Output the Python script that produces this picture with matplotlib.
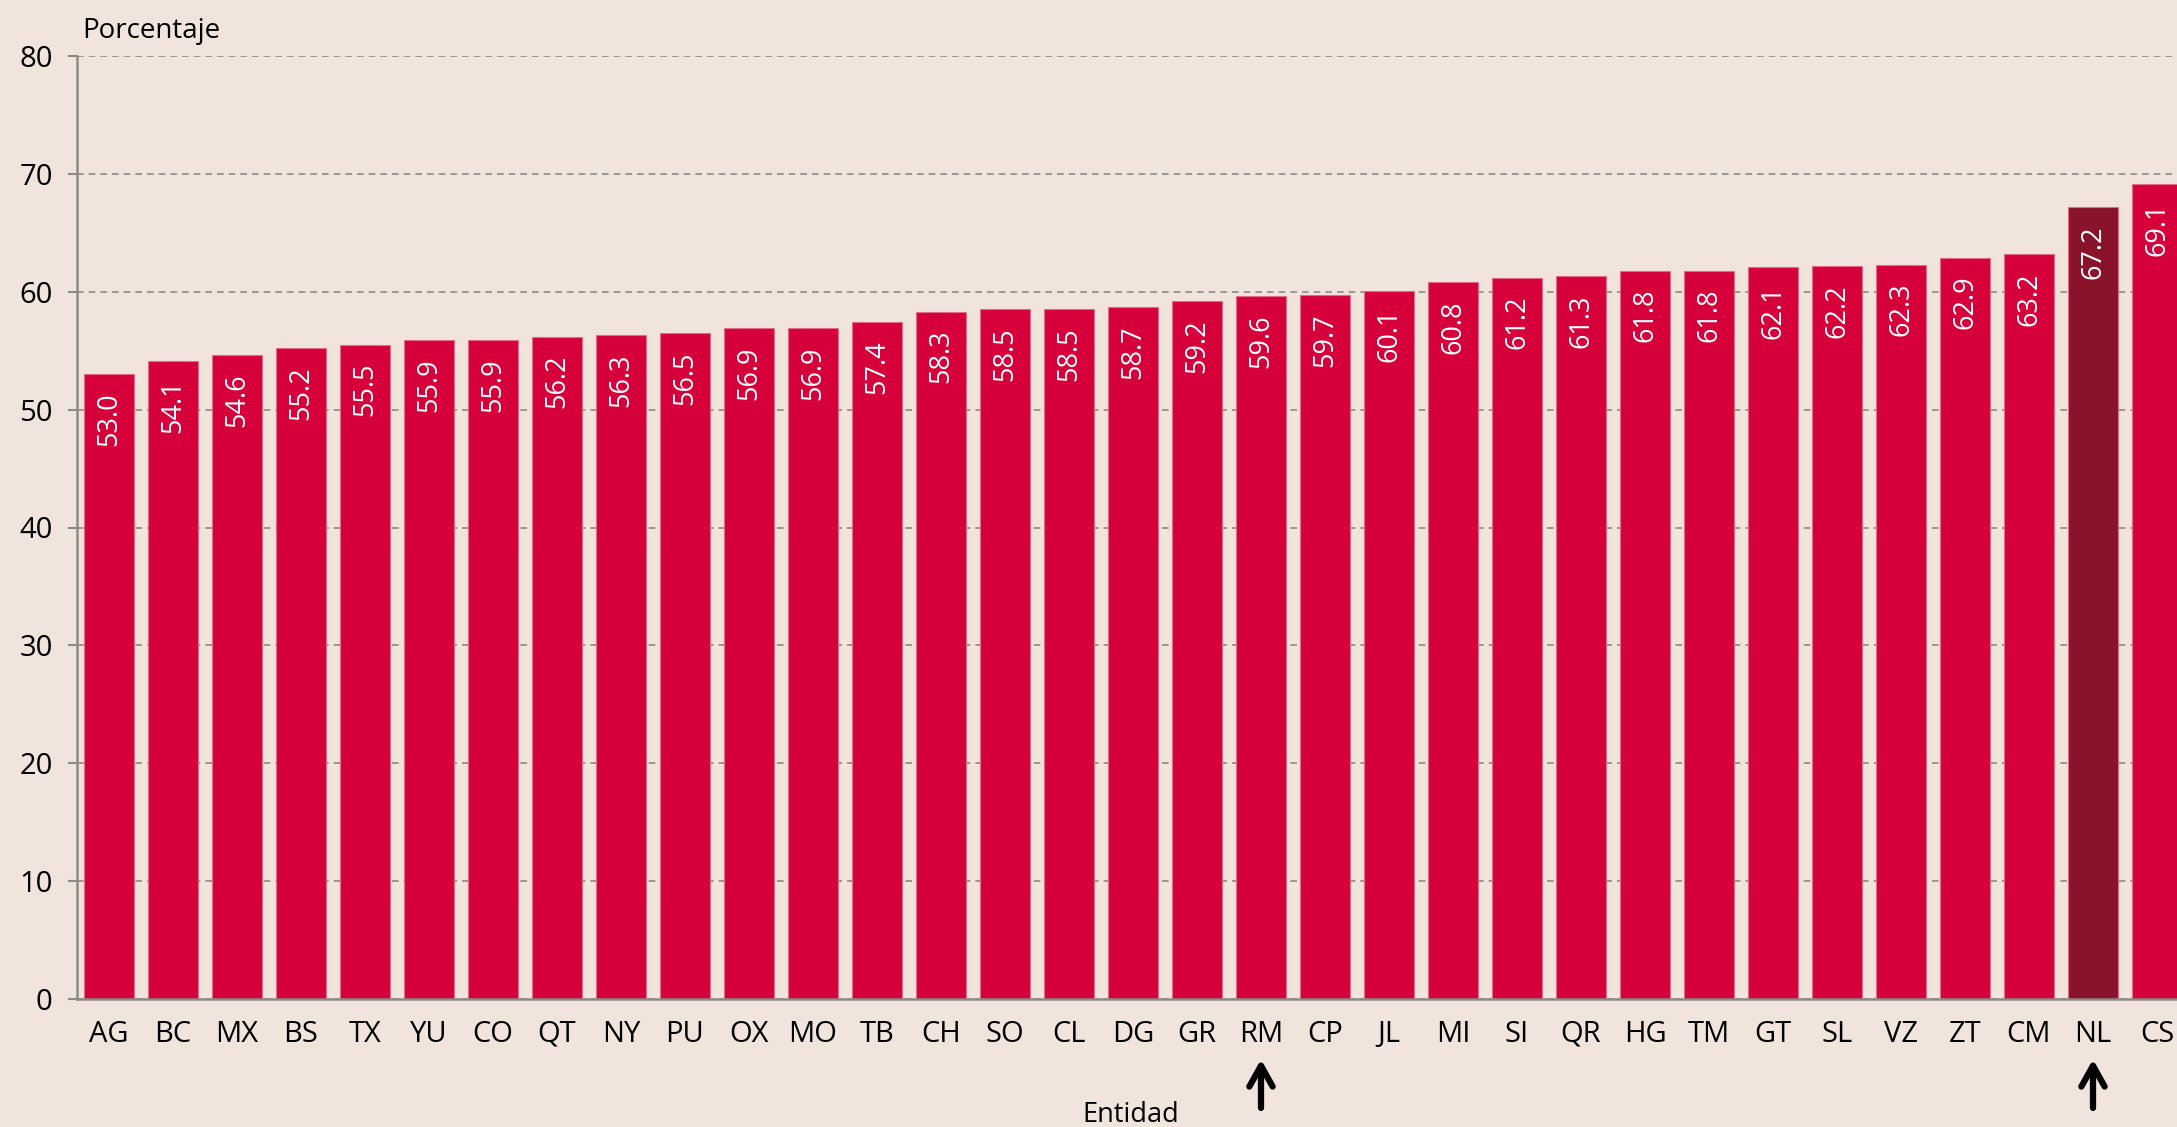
import matplotlib
matplotlib.use("Agg")
import matplotlib.pyplot as plt

# Participation by state (percent)
entidades = ["AG", "BC", "MX", "BS", "TX", "YU", "CO", "QT", "NY", "PU", "OX",
             "MO", "TB", "CH", "SO", "CL", "DG", "GR", "RM", "CP", "JL", "MI",
             "SI", "QR", "HG", "TM", "GT", "SL", "VZ", "ZT", "CM", "NL", "CS"]
porcentaje = [53.0, 54.1, 54.6, 55.2, 55.5, 55.9, 55.9, 56.2, 56.3, 56.5, 56.9,
              56.9, 57.4, 58.3, 58.5, 58.5, 58.7, 59.2, 59.6, 59.7, 60.1, 60.8,
              61.2, 61.3, 61.8, 61.8, 62.1, 62.2, 62.3, 62.9, 63.2, 67.2, 69.1]
destacada = "NL"
flechas = ["RM", "NL"]
yticks = [0, 10, 20, 30, 40, 50, 60, 70, 80]

BG = "#f0e4dc"
RED = "#d6003a"
DARK = "#88132b"
GRAY = "#8c8a87"

plt.rcParams["font.family"] = ["Open Sans", "DejaVu Sans"]

fig = plt.figure(figsize=(21.77, 11.27), dpi=100, facecolor=BG)
ax = fig.add_axes([77 / 2177, 1 - 999 / 1127, 1 - 77 / 2177, (999 - 56) / 1127])
ax.set_facecolor(BG)

x = list(range(len(entidades)))
colors = [DARK if e == destacada else RED for e in entidades]
bars = ax.bar(x, porcentaje, width=0.79, color=colors, edgecolor="#e46c86",
              linewidth=0.8, zorder=3)

for xi, v in zip(x, porcentaje):
    ax.annotate(f"{v:.1f}", xy=(xi, v), xytext=(0, -13), textcoords="offset points",
                ha="center", va="top", rotation=90, color="white", fontsize=19.5,
                zorder=4, annotation_clip=False)

ax.set_xlim(-0.5, (2177 - 109) / 64)
ax.set_ylim(0, 80)
ax.set_yticks(yticks)
ax.set_yticklabels([str(t) for t in yticks], fontsize=21)
ax.set_xticks(x)
ax.set_xticklabels(entidades, fontsize=21)
ax.tick_params(axis="x", length=0, pad=15)
ax.tick_params(axis="y", length=6.5, width=1.5, color=GRAY, pad=11)

ax.yaxis.grid(True, linestyle=(0, (4, 3)), color=GRAY, linewidth=1.2, zorder=0)
ax.set_axisbelow(True)

for s in ["top", "right"]:
    ax.spines[s].set_visible(False)
for s in ["left", "bottom"]:
    ax.spines[s].set_color(GRAY)
    ax.spines[s].set_linewidth(1.8)
    ax.spines[s].set_zorder(5)

fig.text(82 / 2177, 1 - 38 / 1127, "Porcentaje", fontsize=20, ha="left", va="baseline")
fig.text(1131 / 2177, 1 - 1122 / 1127, "Entidad", fontsize=19.5, ha="center", va="baseline")

# Arrows under highlighted states
for e in flechas:
    i = entidades.index(e)
    ax.annotate("", xy=(i, -0.064), xycoords=("data", "axes fraction"),
                xytext=(i, -0.1155), textcoords=("data", "axes fraction"),
                arrowprops=dict(arrowstyle="->,head_length=0.75,head_width=0.42",
                                mutation_scale=20, lw=4.5, color="black",
                                shrinkA=0, shrinkB=0, capstyle="round",
                                joinstyle="round"),
                annotation_clip=False)

fig.savefig("out.png", dpi=100, facecolor=BG)
